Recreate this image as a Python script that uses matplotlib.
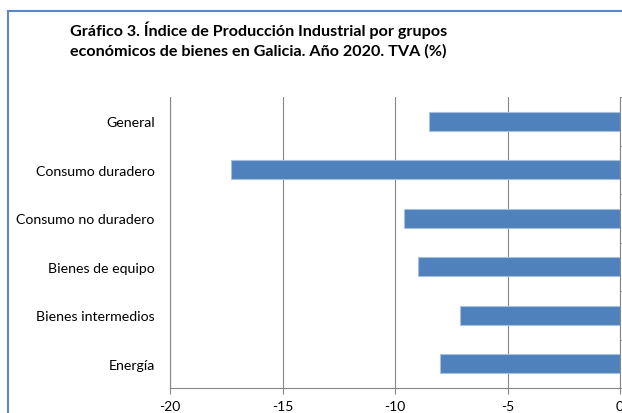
import numpy as np
import matplotlib.pyplot as plt
from matplotlib.patches import Rectangle

categories = ['General', 'Consumo duradero', 'Consumo no duradero',
              'Bienes de equipo', 'Bienes intermedios', 'Energía']
tva = [-8.5, -17.3, -9.6, -9.0, -7.1, -8.0]
xticks = [-20, -15, -10, -5, 0]
title = ('Gráfico 3. Índice de Producción Industrial por grupos\n'
         'económicos de bienes en Galicia. Año 2020. TVA (%)')

plt.rcParams['font.family'] = ['Lato', 'DejaVu Sans']

fig = plt.figure(figsize=(6.22, 4.14), dpi=100)
fig.patches.append(Rectangle((8 / 622, -0.1), 1.2, 1 - 12 / 414 + 0.1,
                             transform=fig.transFigure, fill=False,
                             edgecolor='#5B87C5', linewidth=1.5))
fig.text(0.415, 0.903, title, ha='center', va='center', fontsize=11.6,
         fontweight='bold', linespacing=1.45)

ax = fig.add_axes([170 / 622, 1 - 389 / 414, 450 / 622, 291 / 414])
y = np.arange(len(categories))
ax.barh(y, tva, height=0.4, color='#4F81BD', edgecolor='#A7C0DE',
        linewidth=0.8, zorder=3)
ax.set_xlim(-20, 0)
ax.set_ylim(len(categories) - 0.5, -0.5)
ax.set_xticks(xticks)
ax.set_xticklabels([str(t) for t in xticks])
ax.set_yticks(y)
ax.set_yticklabels(categories)
ax.set_yticks(np.arange(len(categories) + 1) - 0.5, minor=True)
ax.tick_params(axis='y', which='major', length=0, pad=11, labelsize=10.2)
ax.tick_params(axis='y', which='minor', length=4, color='#868686',
               left=False, right=True, direction='out')
ax.tick_params(axis='x', length=4, color='#868686', pad=5, labelsize=10)
ax.grid(axis='x', color='#868686', linewidth=0.8, zorder=0)
for side in ['left', 'right', 'bottom']:
    ax.spines[side].set_color('#868686')
    ax.spines[side].set_linewidth(0.8)
ax.spines['top'].set_visible(False)

fig.savefig('out.png', dpi=100)
